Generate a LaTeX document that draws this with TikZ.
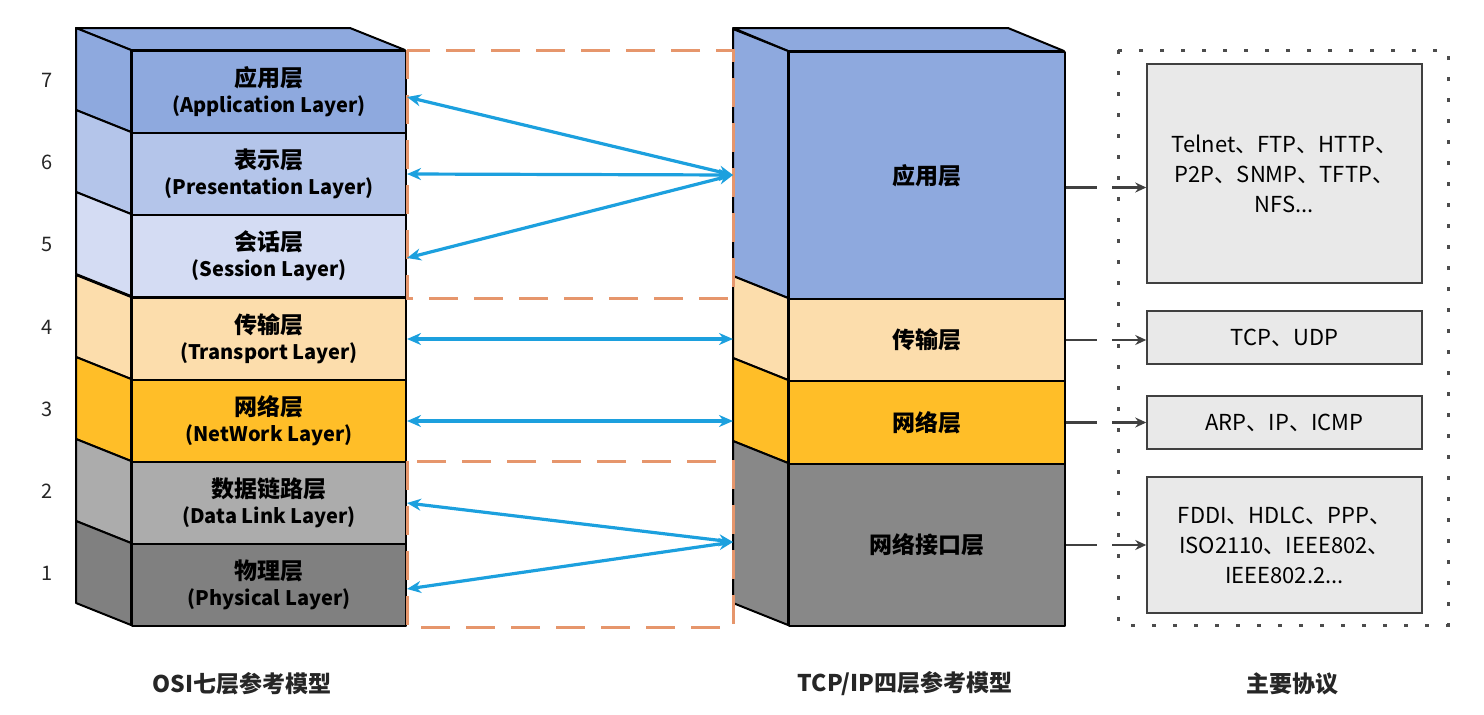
\documentclass[tikz,border=0pt]{standalone}
\usepackage{fontspec}
\setmainfont{Noto Sans CJK SC}
\usetikzlibrary{arrows.meta}

\definecolor{appblue}{RGB}{142,169,222}
\definecolor{preblue}{RGB}{180,197,234}
\definecolor{sesblue}{RGB}{212,220,243}
\definecolor{trnpeach}{RGB}{252,221,172}
\definecolor{netamber}{RGB}{255,190,40}
\definecolor{lnkgray}{RGB}{172,172,172}
\definecolor{phygray}{RGB}{128,128,128}
\definecolor{ifgray}{RGB}{136,136,136}
\definecolor{linkcyan}{RGB}{28,160,222}
\definecolor{frameorange}{RGB}{230,150,108}
\definecolor{protofill}{RGB}{233,233,233}

\begin{document}
\begin{tikzpicture}[x=1pt, y=-1pt,
	>={Stealth[length=14pt,width=12pt]},
	face/.style={
		draw,
		line width=2pt,
		line join=round
	},
	layer/.style={
		face,
		minimum width=274pt,
		minimum height=82pt,
		inner sep=0pt,
		align=center,
		font=\bfseries\fontsize{20}{26}\selectfont
	},
	tcplayer/.style={
		face,
		minimum width=276pt,
		inner sep=0pt,
		font=\bfseries\fontsize{23}{26}\selectfont
	},
	proto/.style={
		draw=black!75,
		line width=1.5pt,
		fill=protofill,
		minimum width=275pt,
		inner sep=0pt,
		align=center,
		font=\fontsize{22}{30}\selectfont
	},
	peer/.style={<->, linkcyan, line width=3.2pt},
	feed/.style={->, black!75, line width=2.5pt, dash pattern=on 31pt off 15pt,
		>={Stealth[length=11pt,width=10pt]}},
	peerframe/.style={frameorange, line width=3pt, dash pattern=on 29pt off 16pt},
	num/.style={font=\fontsize{20}{24}\selectfont, text=black!85},
	caption/.style={font=\bfseries\fontsize{23}{26}\selectfont, text=black!85}
	]

	\useasboundingbox (0,0) rectangle (1484,715);

	% OSI stack
	\filldraw[face, fill=appblue] (76,28) -- (350,28) -- (405,50) -- (131,50) -- cycle;
	\foreach \n/\yt/\col/\zh/\en in {7/50/appblue/应用层/Application Layer,
		6/132/preblue/表示层/Presentation Layer,
		5/214/sesblue/会话层/Session Layer,
		4/297/trnpeach/传输层/Transport Layer,
		3/379/netamber/网络层/NetWork Layer,
		2/461/lnkgray/数据链路层/Data Link Layer,
		1/543/phygray/物理层/Physical Layer}{
		\filldraw[face, fill=\col] (76,\yt-22) -- (131,\yt) -- (131,\yt+82) -- (76,\yt+60) -- cycle;
		\node[layer, fill=\col, anchor=north west] (osi\n) at (131,\yt) {{\fontsize{23}{26}\selectfont\zh}\\(\en)};
		\node[num] (num\n) at (47,\yt+30) {\n};
	}

	% TCP/IP stack
	\filldraw[face, fill=appblue] (733,28) -- (1008,28) -- (1064,51) -- (788,51) -- cycle;
	\foreach \nm/\yt/\h/\col/\zh in {A/51/247/appblue/应用层,
		T/298/82/trnpeach/传输层,
		N/380/83/netamber/网络层,
		L/463/162/ifgray/网络接口层}{
		\filldraw[face, fill=\col] (733,\yt-22) -- (788,\yt) -- (788,\yt+\h) -- (733,\yt+\h-22) -- cycle;
		\node[tcplayer, fill=\col, anchor=north west, minimum height=\h pt] (tcp\nm) at (788,\yt) {\zh};
	}
	\coordinate (tcpA-in) at (733,175);
	\coordinate (tcpL-in) at (733,542);

	% peer frames
	\draw[peerframe] (osi7.north east) rectangle (tcpA-in |- osi5.south east);
	\draw[peerframe] (osi2.north east) rectangle (tcpA-in |- osi1.south east);

	% peer links
	\draw[peer] ([yshift=-5pt]osi7.east) -- (tcpA-in);
	\draw[peer] (osi6.east) -- (tcpA-in);
	\draw[peer] ([yshift=-2pt]osi5.east) -- (tcpA-in);
	\draw[peer] (osi4.east) -- (osi4.east -| tcpA-in);
	\draw[peer] (osi3.east) -- (osi3.east -| tcpA-in);
	\draw[peer] (osi2.east) -- (tcpL-in);
	\draw[peer] ([yshift=-4pt]osi1.east) -- (tcpL-in);

	% protocols
	\draw[black!70, line width=3pt, dash pattern=on 4pt off 17pt] (1118,50) rectangle (1448,625);
	\node[proto, minimum height=219pt] (protoA) at (1284.5,173.5) {Telnet、FTP、HTTP、\\P2P、SNMP、TFTP、\\NFS...};
	\node[proto, minimum height=53pt] (protoT) at (1284.5,337.5) {TCP、UDP};
	\node[proto, minimum height=53pt] (protoN) at (1284.5,422.5) {ARP、IP、ICMP};
	\node[proto, minimum height=136pt] (protoL) at (1284.5,545) {FDDI、HDLC、PPP、\\ISO2110、IEEE802、\\IEEE802.2...};

	\draw[feed] ([yshift=-12pt]tcpA.east) coordinate (feedA) -- (feedA -| protoA.west);
	\draw[feed] (tcpT.east) -- (tcpT.east -| protoT.west);
	\draw[feed] (tcpN.east) -- (tcpN.east -| protoN.west);
	\draw[feed] (tcpL.east) -- (tcpL.east -| protoL.west);

	% captions
	\node[caption] (osiCap) at (242,684) {OSI七层参考模型};
	\node[caption] (tcpCap) at (905,684) {TCP/IP四层参考模型};
	\node[caption] (protoCap) at (1292,684) {主要协议};
\end{tikzpicture}
\end{document}
